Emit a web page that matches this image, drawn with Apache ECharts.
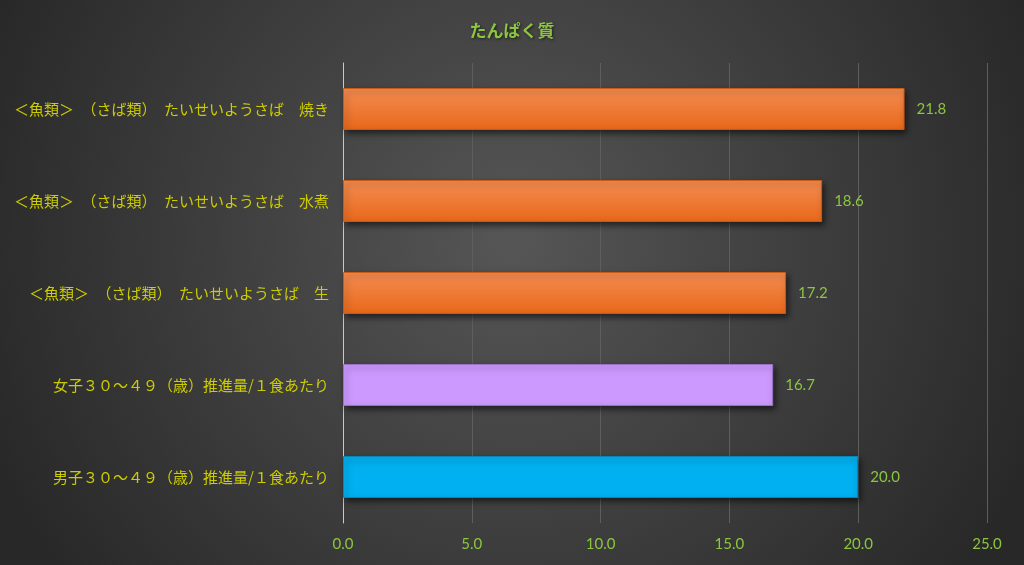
<!DOCTYPE html>
<html><head><meta charset="utf-8">
<script src="https://cdn.jsdelivr.net/npm/echarts@6/dist/echarts.min.js"></script>
<style>html,body{margin:0;padding:0;background:#3a3a3a}#c{width:1024px;height:565px}</style>
</head><body><div id="c"></div>
<script>
const title = 'たんぱく質';
const categories = [
  '＜魚類＞　（さば類）　たいせいようさば　焼き',
  '＜魚類＞　（さば類）　たいせいようさば　水煮',
  '＜魚類＞　（さば類）　たいせいようさば　生',
  '女子３０～４９（歳）推進量/１食あたり',
  '男子３０～４９（歳）推進量/１食あたり'
];
const values = [21.8, 18.6, 17.2, 16.7, 20.0];
const barKinds = ['fish', 'fish', 'fish', 'female', 'male'];
const axisMin = 0, axisMax = 25, axisInterval = 5;

const orange = {type:'linear',x:0,y:0,x2:0,y2:1,colorStops:[{offset:0,color:'#f48c52'},{offset:1,color:'#e8681a'}]};
const styles = {
  fish: {color: orange, borderColor:'#c85a14'},
  female: {color:'#cc99ff', borderColor:'#9a6fc4'},
  male: {color:'#00b0f0', borderColor:'#0a86b5'}
};
const chart = echarts.init(document.getElementById('c'));
chart.setOption({
  backgroundColor: {type:'radial',x:0.5,y:0.42,r:1.0,colorStops:[{offset:0,color:'#565656'},{offset:1,color:'#282828'}]},
  title: {text:title,left:'center',top:17,textStyle:{color:'#8cc63f',fontSize:17,fontWeight:'bold',fontFamily:'Noto Sans CJK JP',textShadowColor:'rgba(0,0,0,0.6)',textShadowBlur:3,textShadowOffsetX:1,textShadowOffsetY:1}},
  grid: {left:343,right:37,top:63,bottom:42,containLabel:false},
  xAxis: {type:'value',min:axisMin,max:axisMax,interval:axisInterval,
    axisLine:{show:false},axisTick:{show:false},
    splitLine:{show:true,lineStyle:{color:'#5e5e5e',width:1}},
    axisLabel:{color:'#8cc63f',fontSize:15,fontFamily:'Lato',margin:14,formatter:v=>v.toFixed(1)}},
  yAxis: {type:'category',data:categories,inverse:true,
    axisLine:{show:true,lineStyle:{color:'#c8c8c8',width:1}},axisTick:{show:false},
    axisLabel:{color:'#cccc00',fontSize:15,fontFamily:'Noto Sans CJK JP',margin:14}},
  series: [{type:'bar',barWidth:42,
    data: values.map((v,i)=>({value:v,itemStyle:Object.assign({borderWidth:1,shadowColor:'rgba(0,0,0,0.55)',shadowBlur:6,shadowOffsetX:2,shadowOffsetY:3},styles[barKinds[i]])})),
    label:{show:true,position:'right',distance:12,color:'#8cc63f',fontSize:15,fontFamily:'Lato',formatter:p=>p.value.toFixed(1)}
  }]
});
</script></body></html>
